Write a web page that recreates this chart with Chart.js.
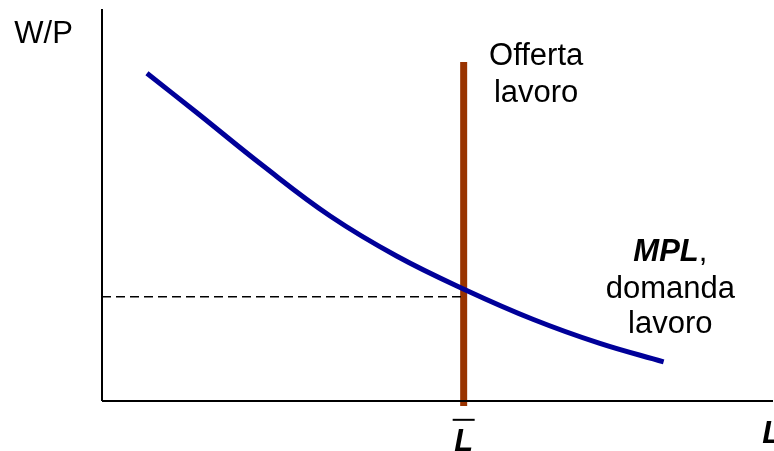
<!DOCTYPE html>
<html>
<head>
<meta charset="utf-8">
<script src="https://cdn.jsdelivr.net/npm/chart.js@4.4.0/dist/chart.umd.min.js"></script>
<style>
  html, body { margin: 0; padding: 0; background: #ffffff; }
  #wrap { width: 774px; height: 451px; position: relative; }
</style>
</head>
<body>
<div id="wrap"><canvas id="labourChart"></canvas></div>
<script>
// Domanda di lavoro (MPL)
const demandL = [0.67, 1.41, 2.40, 3.40, 4.39, 5.41, 6.43, 7.42, 8.37];
const demandW = [8.36, 7.36, 6.00, 4.72, 3.70, 2.84, 2.08, 1.47, 1.00];

// Offerta di lavoro (verticale in L barra)
const supplyL = [5.39, 5.39];
const supplyW = [8.65, -0.13];

// Salario reale di equilibrio
const eqL = [0, 5.39];
const eqW = [2.66, 2.66];

// Assi
const axisX = [[0, 0], [10, 0]];
const axisY = [[0, 0], [0, 10]];

// Etichette: testo, x, y (unità dati)
const labels = [
  { text: 'W/P', x: -0.87, y: 9.12, font: '31px "Liberation Sans", Arial', align: 'center' },
  { text: 'Offerta', x: 6.47, y: 8.57, font: '31px "Liberation Sans", Arial', align: 'center' },
  { text: 'lavoro', x: 6.47, y: 7.64, font: '31px "Liberation Sans", Arial', align: 'center' },
  { text: 'domanda', x: 8.47, y: 2.63, font: '31px "Liberation Sans", Arial', align: 'center' },
  { text: 'lavoro', x: 8.47, y: 1.73, font: '31px "Liberation Sans", Arial', align: 'center' },
  { text: 'L', x: 9.84, y: -1.07, font: 'italic bold 31px "Liberation Sans", Arial', align: 'left' }
];

const toPoints = (xs, ys) => xs.map((x, i) => ({ x, y: ys[i] }));
const pairPoints = pairs => pairs.map(p => ({ x: p[0], y: p[1] }));

const textPlugin = {
  id: 'textLabels',
  afterDatasetsDraw(chart) {
    const { ctx, scales: { x, y } } = chart;
    ctx.save();
    ctx.fillStyle = '#000000';
    ctx.textBaseline = 'alphabetic';
    labels.forEach(l => {
      ctx.font = l.font;
      ctx.textAlign = l.align;
      ctx.fillText(l.text, x.getPixelForValue(l.x), y.getPixelForValue(l.y));
    });

    // "MPL," : MPL in grassetto corsivo, virgola normale
    const boldFont = 'italic bold 31px "Liberation Sans", Arial';
    const normFont = '31px "Liberation Sans", Arial';
    ctx.font = boldFont;
    const wMpl = ctx.measureText('MPL').width;
    ctx.font = normFont;
    const wComma = ctx.measureText(',').width;
    const cx = x.getPixelForValue(8.47);
    const by = y.getPixelForValue(3.56);
    const startX = cx - (wMpl + wComma) / 2;
    ctx.textAlign = 'left';
    ctx.font = boldFont;
    ctx.fillText('MPL', startX, by);
    ctx.font = normFont;
    ctx.fillText(',', startX + wMpl, by);

    // L barra
    ctx.font = boldFont;
    ctx.textAlign = 'center';
    const lx = x.getPixelForValue(5.39);
    ctx.fillText('L', lx, y.getPixelForValue(-1.27));
    ctx.strokeStyle = '#000000';
    ctx.lineWidth = 2;
    const oy = y.getPixelForValue(-0.48);
    ctx.beginPath();
    ctx.moveTo(lx - 11, oy);
    ctx.lineTo(lx + 11, oy);
    ctx.stroke();
    ctx.restore();
  }
};

new Chart(document.getElementById('labourChart').getContext('2d'), {
  type: 'line',
  data: {
    datasets: [
      {
        label: 'Asse L',
        data: pairPoints(axisX),
        borderColor: '#000000',
        borderWidth: 2,
        pointRadius: 0,
        clip: false
      },
      {
        label: 'Asse W/P',
        data: pairPoints(axisY),
        borderColor: '#000000',
        borderWidth: 2,
        pointRadius: 0,
        clip: false
      },
      {
        label: 'Equilibrio',
        data: toPoints(eqL, eqW),
        borderColor: '#000000',
        borderWidth: 1.5,
        borderDash: [9, 5],
        pointRadius: 0
      },
      {
        label: 'MPL, domanda lavoro',
        data: toPoints(demandL, demandW),
        borderColor: '#000099',
        borderWidth: 5,
        pointRadius: 0,
        tension: 0.4
      },
      {
        label: 'Offerta lavoro',
        data: toPoints(supplyL, supplyW),
        borderColor: '#993300',
        borderWidth: 7,
        pointRadius: 0,
        clip: false
      }
    ]
  },
  options: {
    responsive: true,
    maintainAspectRatio: false,
    animation: false,
    layout: { padding: { left: 102, right: 1, top: 9, bottom: 50 } },
    plugins: {
      legend: { display: false },
      tooltip: { enabled: false }
    },
    scales: {
      x: { type: 'linear', min: 0, max: 10, display: false },
      y: { type: 'linear', min: 0, max: 10, display: false }
    }
  },
  plugins: [textPlugin]
});
</script>
</body>
</html>
